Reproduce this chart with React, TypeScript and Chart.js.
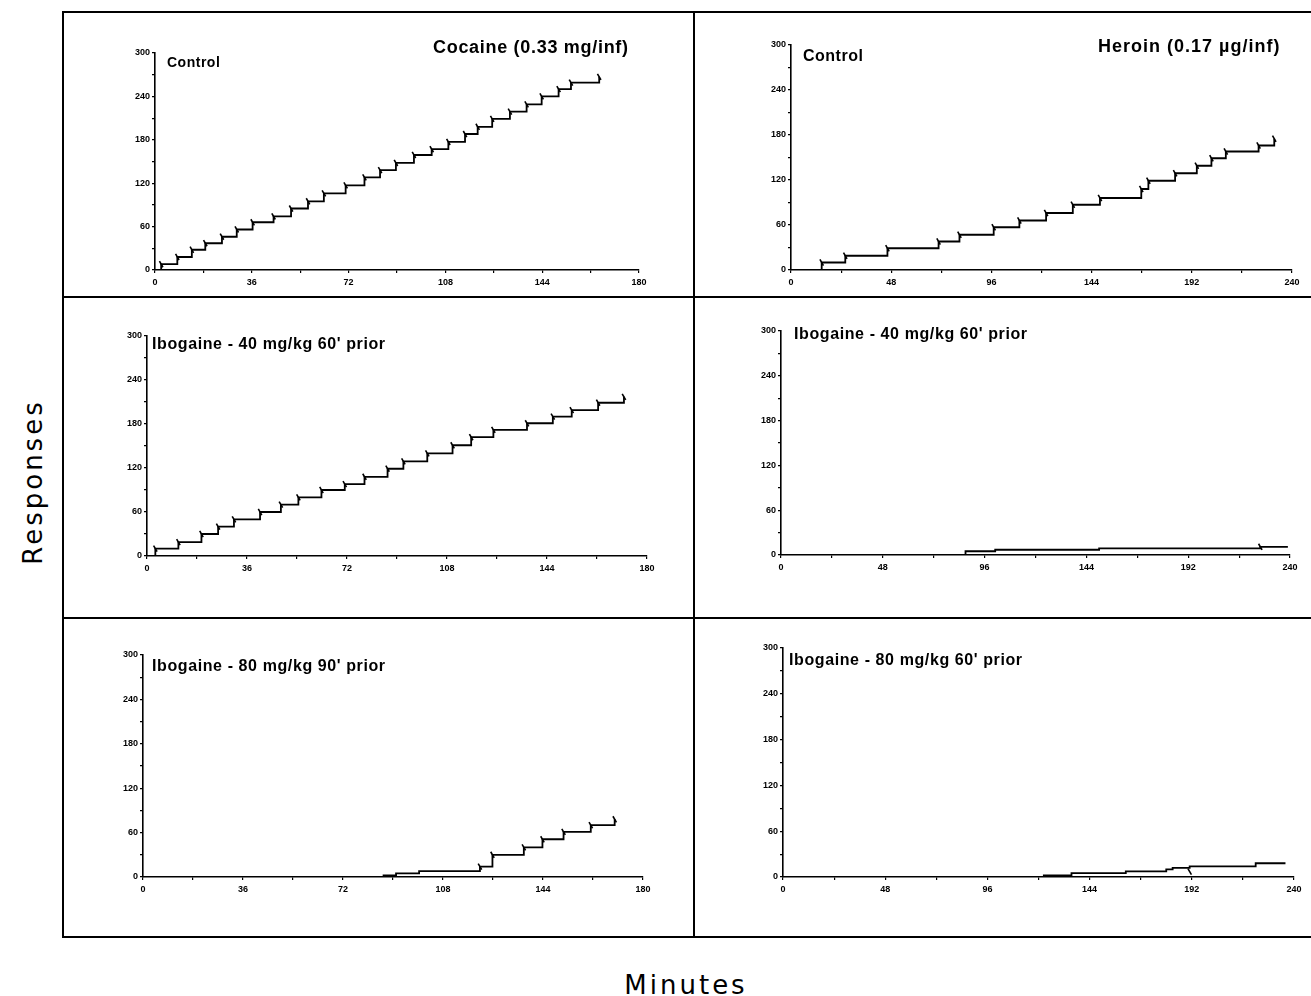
import React, { useEffect, useRef } from "react";
import { Chart, registerables } from "chart.js";
Chart.register(...registerables);

// ---- tick labels ----
const yLabelValues = [0, 60, 120, 180, 240, 300];
const xLabelsCocaine = [0, 36, 72, 108, 144, 180];
const xLabelsHeroin = [0, 48, 96, 144, 192, 240];

// ---- Cocaine control ----
const cocCtrlT = [0, 2.3, 8.3, 13.7, 18.7, 24.9, 30.4, 36.3, 44.1, 50.6, 56.9, 62.8, 70.9, 77.9, 83.7, 89.6, 96.3, 102.9, 109.1, 115.3, 120.0, 125.4, 132.0, 138.2, 143.8, 150.1, 154.7, 165.2];
const cocCtrlY = [0, 8, 18, 28, 37, 46, 56, 66, 74, 85, 95, 106, 117, 128, 138, 148, 159, 167, 177, 188, 198, 209, 219, 229, 240, 250, 259, 267];

// ---- Heroin control ----
const herCtrlT = [0, 14.7, 26.0, 46.2, 70.7, 80.7, 97.1, 109.4, 122.2, 135.0, 148.0, 167.8, 171.2, 184.0, 194.4, 201.4, 208.3, 224.0, 231.5];
const herCtrlY = [0, 10, 19, 29, 38, 47, 57, 66, 76, 87, 96, 108, 119, 129, 139, 149, 158, 166, 175];

// ---- Ibogaine 40 mg/kg, cocaine ----
const ibo40CocT = [0, 3.0, 11.3, 19.6, 25.6, 31.3, 40.7, 48.2, 54.5, 62.8, 71.2, 78.3, 86.6, 92.3, 100.9, 110.0, 116.7, 124.7, 136.8, 146.1, 152.9, 162.4, 171.7];
const ibo40CocY = [0, 10, 19, 30, 40, 50, 60, 70, 80, 90, 98, 108, 119, 129, 140, 151, 162, 172, 181, 190, 199, 209, 217];

// ---- Ibogaine 40 mg/kg, heroin ----
const ibo40HerT = [0, 87, 101, 150, 226, 239];
const ibo40HerY = [0, 5, 7, 9, 11, 11];
const ibo40HerMarkT = [226];
const ibo40HerMarkY = [11];

// ---- Ibogaine 80 mg/kg 90', cocaine ----
const ibo80CocT = [0, 86.6, 91.1, 99.4, 121.3, 125.8, 137.1, 143.8, 151.4, 161.2, 169.8];
const ibo80CocY = [0, 2, 5, 8, 14, 30, 40, 51, 61, 70, 78];

// ---- Ibogaine 80 mg/kg 60', heroin ----
const ibo80HerT = [0, 122.5, 135.5, 161, 180, 183, 191, 222, 236];
const ibo80HerY = [0, 2, 5, 7.5, 10, 12, 14, 18, 18];
const ibo80HerMarkT = [191];
const ibo80HerMarkY = [7];

type PanelDef = {
  times: number[];
  levels: number[];
  markT: number[];
  markY: number[];
  xMax: number;
  xMinor: number;
  xLabels: number[];
  L: number; R: number; T: number; B: number;
};

const panels: PanelDef[] = [
  { times: cocCtrlT, levels: cocCtrlY, markT: cocCtrlT.slice(1), markY: cocCtrlY.slice(1), xMax: 180, xMinor: 18, xLabels: xLabelsCocaine, L: 155, R: 639, T: 53, B: 270 },
  { times: herCtrlT, levels: herCtrlY, markT: herCtrlT.slice(1), markY: herCtrlY.slice(1), xMax: 240, xMinor: 24, xLabels: xLabelsHeroin, L: 791, R: 1292, T: 45, B: 270 },
  { times: ibo40CocT, levels: ibo40CocY, markT: ibo40CocT.slice(1), markY: ibo40CocY.slice(1), xMax: 180, xMinor: 18, xLabels: xLabelsCocaine, L: 147, R: 647, T: 336, B: 556 },
  { times: ibo40HerT, levels: ibo40HerY, markT: ibo40HerMarkT, markY: ibo40HerMarkY, xMax: 240, xMinor: 24, xLabels: xLabelsHeroin, L: 781, R: 1290, T: 331, B: 555 },
  { times: ibo80CocT, levels: ibo80CocY, markT: ibo80CocT.slice(4), markY: ibo80CocY.slice(4), xMax: 180, xMinor: 18, xLabels: xLabelsCocaine, L: 143, R: 643, T: 655, B: 877 },
  { times: ibo80HerT, levels: ibo80HerY, markT: ibo80HerMarkT, markY: ibo80HerMarkY, xMax: 240, xMinor: 24, xLabels: xLabelsHeroin, L: 783, R: 1294, T: 648, B: 877 },
];

const padL = 34, padT = 10, padR = 14, padB = 20;
const tickFont = { family: "'Liberation Sans', Arial, sans-serif", size: 9, weight: "bold" as const };

function Panel({ p }: { p: PanelDef }) {
  const ref = useRef<HTMLCanvasElement>(null);
  const w = p.R - p.L + padL + padR;
  const h = p.B - p.T + padT + padB;
  useEffect(() => {
    if (!ref.current) return;
    const chart = new Chart(ref.current, {
      type: "line",
      data: {
        datasets: [
          {
            data: p.times.map((t, i) => ({ x: t, y: p.levels[i] })),
            stepped: "before",
            borderColor: "#000",
            borderWidth: 1.8,
            pointRadius: 0,
            fill: false,
          },
          {
            data: p.markT.map((t, i) => ({ x: t, y: p.markY[i] })),
            showLine: false,
            pointStyle: "line",
            pointRadius: 3.5,
            pointRotation: 60,
            pointBorderColor: "#000",
            pointBorderWidth: 1.6,
            borderColor: "#000",
          } as any,
        ],
      },
      options: {
        animation: false,
        responsive: false,
        maintainAspectRatio: false,
        layout: { padding: { left: 0, top: padT, right: padR, bottom: 0 } },
        plugins: { legend: { display: false }, tooltip: { enabled: false }, title: { display: false } },
        scales: {
          x: {
            type: "linear",
            min: 0,
            max: p.xMax,
            afterFit: (s: any) => { s.height = padB; },
            ticks: {
              stepSize: p.xMinor,
              autoSkip: false,
              maxRotation: 0,
              padding: 4,
              color: "#000",
              font: tickFont,
              callback: (v: any) => (p.xLabels.includes(Number(v)) ? String(v) : ""),
            },
            grid: { drawOnChartArea: false, drawTicks: true, tickLength: 3, color: "#000", lineWidth: 1.2 },
            border: { color: "#000", width: 1.6 },
          },
          y: {
            type: "linear",
            min: 0,
            max: 300,
            afterFit: (s: any) => { s.width = padL; },
            ticks: {
              stepSize: 30,
              autoSkip: false,
              padding: 2,
              color: "#000",
              font: tickFont,
              callback: (v: any) => (yLabelValues.includes(Number(v)) ? String(v) : ""),
            },
            grid: { drawOnChartArea: false, drawTicks: true, tickLength: 3, color: "#000", lineWidth: 1.2 },
            border: { color: "#000", width: 1.6 },
          },
        },
      },
    } as any);
    return () => chart.destroy();
  }, []);
  return (
    <canvas
      ref={ref}
      width={w}
      height={h}
      style={{ position: "absolute", left: p.L - padL, top: p.T - padT, width: w, height: h }}
    />
  );
}

const sans = "'Liberation Sans', Arial, sans-serif";

function Label({ text, x, cy, size, ls = 0 }: { text: string; x: number; cy: number; size: number; ls?: number }) {
  return (
    <div
      style={{
        position: "absolute",
        left: x,
        top: cy,
        transform: "translateY(-50%)",
        fontFamily: sans,
        fontWeight: "bold",
        fontSize: size,
        letterSpacing: ls,
        lineHeight: 1,
        whiteSpace: "nowrap",
        color: "#000",
      }}
    >
      {text}
    </div>
  );
}

export default function App() {
  const line = "#000";
  return (
    <div style={{ position: "absolute", left: 0, top: 0, width: 1311, height: 996, overflow: "hidden", background: "#fff" }}>
      {/* frame */}
      <div style={{ position: "absolute", left: 62, top: 11, width: 1300, height: 927, border: `2px solid ${line}`, boxSizing: "border-box" }} />
      <div style={{ position: "absolute", left: 693, top: 11, width: 2, height: 927, background: line }} />
      <div style={{ position: "absolute", left: 62, top: 296, width: 1260, height: 2, background: line }} />
      <div style={{ position: "absolute", left: 62, top: 617, width: 1260, height: 2, background: line }} />

      {panels.map((p, i) => (
        <Panel key={i} p={p} />
      ))}

      <Label text="Cocaine (0.33 mg/inf)" x={433} cy={47} size={18} ls={0.7} />
      <Label text="Heroin (0.17 µg/inf)" x={1098} cy={46} size={18} ls={1} />
      <Label text="Control" x={167} cy={62} size={14} ls={0.5} />
      <Label text="Control" x={803} cy={56} size={16} ls={0.5} />
      <Label text="Ibogaine - 40 mg/kg 60' prior" x={152} cy={344} size={16} ls={0.6} />
      <Label text="Ibogaine - 40 mg/kg 60' prior" x={794} cy={334} size={16} ls={0.6} />
      <Label text="Ibogaine - 80 mg/kg 90' prior" x={152} cy={666} size={16} ls={0.6} />
      <Label text="Ibogaine - 80 mg/kg 60' prior" x={789} cy={660} size={16} ls={0.6} />

      <div
        style={{
          position: "absolute",
          left: 33,
          top: 482,
          transform: "translate(-50%, -50%) rotate(-90deg)",
          fontFamily: "'DejaVu Sans', Verdana, sans-serif",
          fontSize: 26,
          letterSpacing: 3,
          lineHeight: 1,
          whiteSpace: "nowrap",
        }}
      >
        Responses
      </div>
      <div
        style={{
          position: "absolute",
          left: 686,
          top: 985,
          transform: "translate(-50%, -50%)",
          fontFamily: "'DejaVu Sans', Verdana, sans-serif",
          fontSize: 26,
          letterSpacing: 3,
          lineHeight: 1,
          whiteSpace: "nowrap",
        }}
      >
        Minutes
      </div>
    </div>
  );
}
